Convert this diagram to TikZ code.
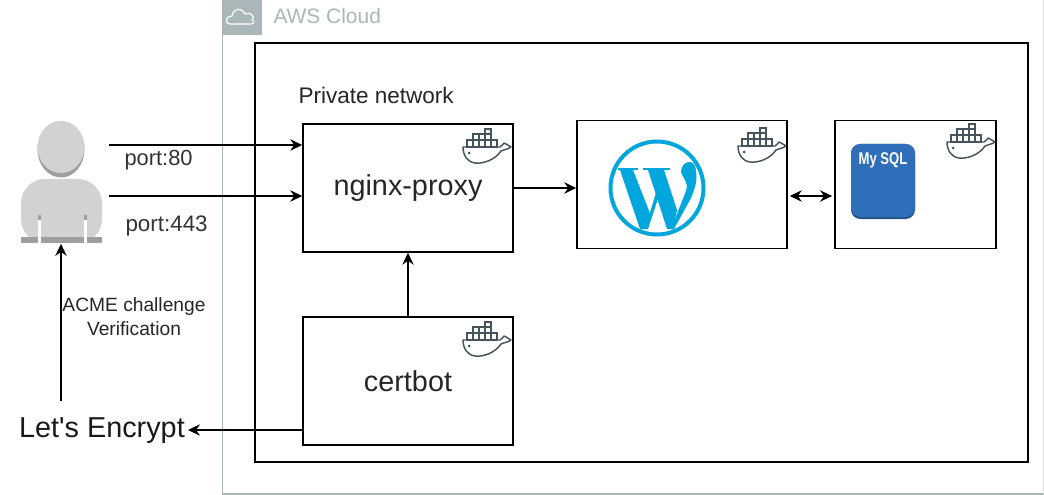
\documentclass[tikz,border=0pt]{standalone}
\usepackage{fontspec}
\setmainfont{Liberation Sans}
\usetikzlibrary{arrows.meta}
\definecolor{awsgrey}{HTML}{AAB7B8}
\definecolor{wpblue}{HTML}{00A6DC}
\definecolor{sqlblue}{HTML}{2F6EB8}
\definecolor{whalegrey}{HTML}{46545C}
\tikzset{
  box/.style={draw,line width=1.1pt,minimum width=157.5pt,minimum height=96pt},
  arr/.style={-{Stealth[length=9pt,width=8.5pt]},line width=1.1pt},
  arrboth/.style={{Stealth[length=9pt,width=8.5pt]}-{Stealth[length=9pt,width=8.5pt]},line width=1.1pt},
  whale/.pic={
    \draw[whalegrey,line width=1.1pt,line join=round,fill=white]
      (0,0) -- (37,0) .. controls (39,-1) and (40,-3) .. (41,-4)
      .. controls (43,-3) and (45,-2) .. (48,0)
      .. controls (44,3) and (41,2) .. (38,4)
      .. controls (32,13) and (20,17) .. (12,16)
      .. controls (4,15) and (0,8) .. (0,0) -- cycle;
    \fill[whalegrey] (6,6) circle (1.5);
    \foreach \x in {4,10,16,22,28}
      \draw[whalegrey,line width=1pt] (\x,-7) rectangle +(6,7);
    \foreach \x in {10,16,22}
      \draw[whalegrey,line width=1pt] (\x,-13) rectangle +(6,6);
    \draw[whalegrey,line width=1pt] (22,-18) rectangle +(6,5);
  },
  wplogo/.pic={
    \draw[wpblue,line width=3pt] (0,0) circle (46.5);
    \fill[wpblue] (-39,-20) rectangle (-19,-17.5);
    \fill[wpblue] (-14,-20) rectangle (13,-17.5);
    \fill[wpblue] (-37,-18) -- (-24,-18) -- (-6,28) -- (-10,41) -- (-17,41) -- cycle;
    \fill[wpblue] (-12,41) -- (-0.5,3) -- (1.5,9) -- (-9,41) -- cycle;
    \fill[wpblue] (-9,-18) -- (7,-18) -- (20,22) -- (16,41) -- (10,41) -- cycle;
    \fill[wpblue] (14,41) -- (29,3) .. controls (32,-6) and (26,-9) .. (24,-16)
      .. controls (24,-25) and (34,-30) .. (38,-22)
      .. controls (42,-8) and (37,2) .. (34,10) -- (17,41) -- cycle;
  }
}
\begin{document}
\begin{tikzpicture}[x=0.75pt,y=-0.75pt,line width=0.75pt]
  \useasboundingbox (0,0) rectangle (1044,495);
  % cloud frame
  \draw[awsgrey,line width=0.9pt] (222.5,0) -- (222.5,494) -- (1044,494);
  \draw[gray!25,line width=0.9pt] (1043.5,0) -- (1043.5,494);
  \fill[awsgrey] (222,0) rectangle (262,35);
  \draw[white,line width=0.9pt] (230,24) .. controls (224,24) and (226,15) .. (232,16)
    .. controls (233,9) and (241,6) .. (245,14)
    .. controls (250,11) and (256,17) .. (252,20)
    .. controls (255,21) and (254,24) .. (251,24) -- cycle;
  \node[awsgrey,anchor=west,inner sep=0pt,font=\fontsize{15.7pt}{18pt}\selectfont] (awslabel) at (273,16) {AWS Cloud};
  \draw[line width=1.1pt] (255,43) rectangle (1028,462);
  \node[anchor=west,inner sep=0pt,text=black!85,font=\fontsize{16.9pt}{20pt}\selectfont] (privlabel) at (298,95) {Private network};
  % containers
  \node[box,text=black!85,font=\fontsize{21.6pt}{26pt}\selectfont] (nginx) at (408,188) {nginx-proxy};
  \node[box,text=black!85,font=\fontsize{21.6pt}{26pt}\selectfont] (certbot) at (408,381) {certbot};
  \node[box] (wordpress) at (682,184.5) {};
  \node[box,minimum width=121pt] (mysql) at (915.5,184.5) {};
  \foreach \x/\y in {463/147,463/340,738/146,947/142}
    \pic at (\x,\y) {whale};
  \pic at (657,188) {wplogo};
  % mysql tile
  \fill[sqlblue!75!black,rounded corners=7pt] (851,144) rectangle (915,219);
  \fill[sqlblue,rounded corners=7pt] (851,144) rectangle (915,217);
  \node[white,inner sep=0pt,xscale=0.77,font=\bfseries\fontsize{12.75pt}{15pt}\selectfont] (sqllabel) at (883,160) {My SQL};
  % user
  \node[inner sep=0pt,minimum width=61pt,minimum height=92pt] (user) at (61,182) {};
  \fill[gray!75] (61,149.5) ellipse (23.5 and 28);
  \fill[gray!35] (61,147) ellipse (23.5 and 26);
  \fill[gray!35,rounded corners=18pt] (21,243) -- (21,179) -- (102,179) -- (102,243) -- cycle;
  \fill[gray!75] (21,237) rectangle (102,243);
  \foreach \x in {37.5,83.5} {
    \fill[white] (\x,220) rectangle +(3,23);
    \fill[gray!75] (\x,215) rectangle +(3,5);
  }
  % text outside
  \node[anchor=west,inner sep=0pt,text=black!80,font=\fontsize{16.4pt}{20pt}\selectfont] (p80) at (124,160) {port:80};
  \node[anchor=west,inner sep=0pt,text=black!80,font=\fontsize{16.8pt}{20pt}\selectfont] (p443) at (125,226) {port:443};
  \node[align=center,inner sep=0pt,text=black!85,font=\fontsize{14.4pt}{18pt}\selectfont] (acme) at (134,316.5) {ACME challenge\\Verification};
  \node[inner sep=2pt,text=black!90,font=\fontsize{21.6pt}{26pt}\selectfont] (encrypt) at (102,431) {Let\textquotesingle s Encrypt};
  % connectors
  \coordinate (in80) at (109,145);
  \coordinate (in443) at (109,196);
  \coordinate (wpsql) at (810,196);
  \coordinate (leout) at (61,401);
  \coordinate (cbout) at (303,430);
  \draw[arr] (in80) -- (in80 -| nginx.west);
  \draw[arr] (in443) -- (in443 -| nginx.west);
  \draw[arr] (nginx.east) -- (nginx.east -| wordpress.west);
  \draw[arrboth,shorten <=1.5pt,shorten >=1.5pt] (wpsql -| wordpress.east) -- (wpsql -| mysql.west);
  \draw[arr] (certbot.north) -- (nginx.south);
  \draw[arr] (cbout) -- (cbout -| encrypt.east);
  \draw[arr] (leout) -- (user.south);
\end{tikzpicture}
\end{document}
